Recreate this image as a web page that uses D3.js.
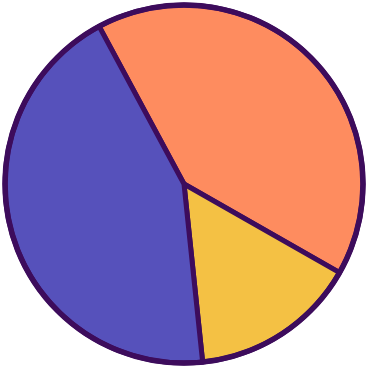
<html>
<head>
<script src="https://d3js.org/d3.v7.min.js"></script>
<style>
  body { margin: 0; background: #fff; }
</style>
</head>
<body>
<script>
const categories = ["Orange", "Yellow", "Blue"];
const values = [41.1, 15.1, 43.8];
const colors = ["#fe8c5f", "#f4c144", "#5651bb"];

const w = 368, h = 368;
const cx = 184, cy = 184, r = 179;
const startDeg = -28.3;

const svg = d3.select("body").append("svg")
  .attr("width", w)
  .attr("height", h);

const pie = d3.pie()
  .sort(null)
  .startAngle(startDeg * Math.PI / 180)
  .endAngle((startDeg + 360) * Math.PI / 180);

const arc = d3.arc().innerRadius(0).outerRadius(r);

const g = svg.append("g").attr("transform", `translate(${cx},${cy})`);

g.selectAll("path")
  .data(pie(values))
  .enter()
  .append("path")
  .attr("d", arc)
  .attr("fill", (d, i) => colors[i])
  .attr("stroke", "#3d0c5c")
  .attr("stroke-width", 5)
  .attr("stroke-linejoin", "round");

g.append("circle")
  .attr("r", r)
  .attr("fill", "none")
  .attr("stroke", "#3d0c5c")
  .attr("stroke-width", 5.5);
</script>
</body>
</html>
